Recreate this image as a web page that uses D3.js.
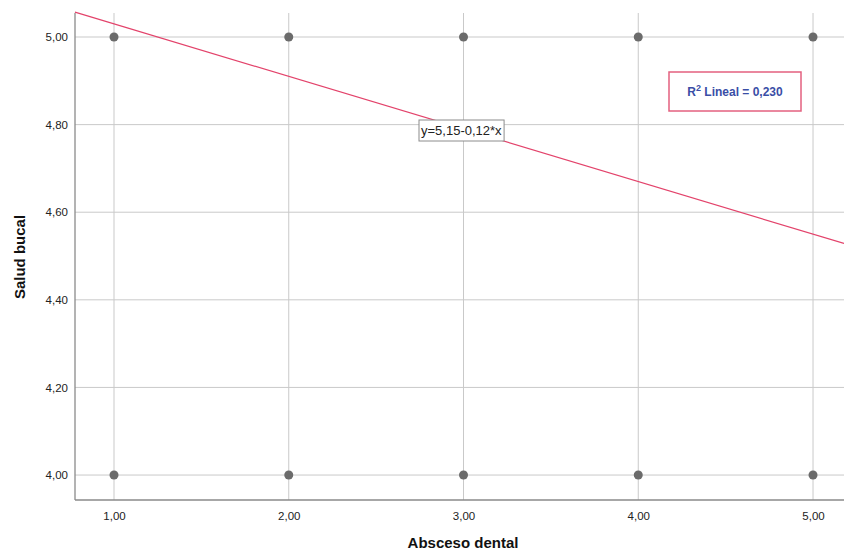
<!DOCTYPE html>
<html><head><meta charset="utf-8">
<script src="https://cdn.jsdelivr.net/npm/d3@7"></script>
<style>body{margin:0;background:#fff}svg{display:block}</style>
</head><body><svg id="c" width="844" height="553"></svg>
<script>
const xTicks = [1, 2, 3, 4, 5];
const yTicks = [4.0, 4.2, 4.4, 4.6, 4.8, 5.0];
const pointsX = [1, 2, 3, 4, 5, 1, 2, 3, 4, 5];
const pointsY = [5, 5, 5, 5, 5, 4, 4, 4, 4, 4];
const intercept = 5.15, slope = -0.12;
const r2Label = "0,230";
const eqLabel = "y=5,15-0,12*x";
const xTitle = "Absceso dental", yTitle = "Salud bucal";

const svg = d3.select("#c");
const L = 75, R = 844, T = 13, B = 500;
const x = d3.scaleLinear().domain([0.7768, 5.1773]).range([L, R]);
const y = d3.scaleLinear().domain([3.943, 5.0548]).range([B, T]);
const fmt = v => d3.format(".2f")(v).replace(".", ",");
const font = "Arial, 'Liberation Sans', sans-serif";

// grid
svg.append("g").selectAll("line").data(xTicks).join("line")
  .attr("x1", d => x(d)).attr("x2", d => x(d)).attr("y1", T).attr("y2", B)
  .attr("stroke", "#c9c9c9").attr("stroke-width", 1);
svg.append("g").selectAll("line").data(yTicks).join("line")
  .attr("x1", L).attr("x2", R).attr("y1", d => y(d)).attr("y2", d => y(d))
  .attr("stroke", "#c9c9c9").attr("stroke-width", 1);

// axes
const ax = svg.append("g").attr("transform", `translate(0,${B})`)
  .call(d3.axisBottom(x).tickValues(xTicks).tickFormat(fmt).tickSize(0).tickPadding(12));
const ay = svg.append("g").attr("transform", `translate(${L},0)`)
  .call(d3.axisLeft(y).tickValues(yTicks).tickFormat(fmt).tickSize(0).tickPadding(7));
[ax, ay].forEach(g => {
  g.select(".domain").attr("stroke", "#8a8a8a").attr("stroke-width", 1.3);
  g.selectAll("text").attr("font-family", font).attr("font-size", 11.5).attr("fill", "#222");
});
ay.select(".domain").attr("d", `M0,${T}V${B}`);
ax.select(".domain").attr("d", `M${L},0H${R}`);

// points
svg.append("g").selectAll("circle").data(pointsX.map((v, i) => [v, pointsY[i]])).join("circle")
  .attr("cx", d => x(d[0])).attr("cy", d => y(d[1])).attr("r", 4.5).attr("fill", "#6b6b6b");

// fit line
const xd = x.domain();
svg.append("line")
  .attr("x1", x(xd[0])).attr("y1", y(intercept + slope * xd[0]))
  .attr("x2", x(xd[1])).attr("y2", y(intercept + slope * xd[1]))
  .attr("stroke", "#e3436b").attr("stroke-width", 1.2);

// equation label
const eg = svg.append("g");
const et = eg.append("text").attr("x", 421).attr("y", 135).text(eqLabel)
  .attr("font-family", font).attr("font-size", 13).attr("fill", "#222");
const bb = et.node().getBBox();
eg.insert("rect", "text").attr("x", bb.x - 2).attr("y", 120).attr("width", bb.width + 4).attr("height", 21)
  .attr("fill", "#fff").attr("stroke", "#8c8c8c").attr("stroke-width", 1);

// R2 legend
svg.append("rect").attr("x", 669).attr("y", 72).attr("width", 132).attr("height", 39)
  .attr("fill", "#fff").attr("stroke", "#e3607f").attr("stroke-width", 1.5);
const lt = svg.append("text").attr("x", 735).attr("y", 96).attr("text-anchor", "middle")
  .attr("font-family", font).attr("font-size", 12).attr("font-weight", "bold").attr("fill", "#3a4ea6");
lt.append("tspan").text("R");
lt.append("tspan").attr("dy", -5).attr("font-size", 9).text("2");
lt.append("tspan").attr("dy", 5).text(" Lineal = " + r2Label);

// titles
svg.append("text").attr("x", 463).attr("y", 548).attr("text-anchor", "middle")
  .attr("font-family", font).attr("font-size", 15).attr("font-weight", "bold").attr("fill", "#111").text(xTitle);
svg.append("text").attr("transform", "translate(25,257) rotate(-90)").attr("text-anchor", "middle")
  .attr("font-family", font).attr("font-size", 15).attr("font-weight", "bold").attr("fill", "#111").text(yTitle);
</script></body></html>
